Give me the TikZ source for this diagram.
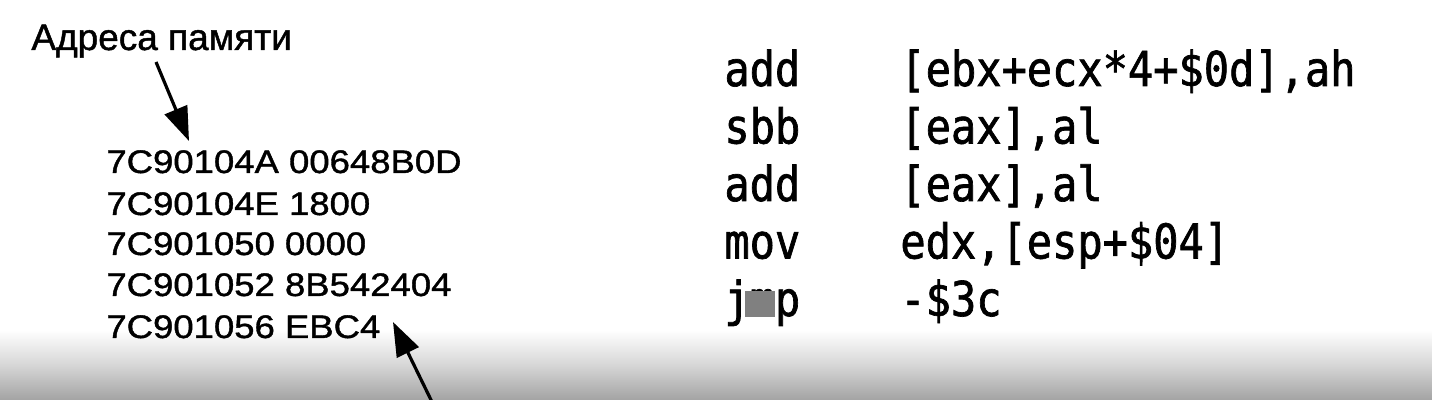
\documentclass[tikz,border=0pt]{standalone}
\usepackage{fontspec}
\setmainfont{Liberation Sans}[FakeBold=1.2]
\newfontfamily\lblfont[FakeBold=1.2]{Liberation Sans}
\newfontfamily\hexfont[FakeStretch=1.12,FakeBold=1.2]{Liberation Sans}
\newfontfamily\asmfont[FakeStretch=0.875,FakeBold=1.4]{DejaVu Sans Mono}
\usetikzlibrary{arrows.meta}
\tikzset{
  lbl/.style={anchor=base west, inner sep=0pt, font=\lblfont\fontsize{18.5pt}{20pt}\selectfont},
  hexline/.style={anchor=base west, inner sep=0pt, font=\hexfont\fontsize{16.3pt}{18pt}\selectfont},
  asm/.style={anchor=base west, inner sep=0pt, font=\asmfont\fontsize{24pt}{26pt}\selectfont},
  pointer/.style={line width=1.6pt, -{Triangle[length=17pt,width=12pt]}}
}
\begin{document}
\begin{tikzpicture}[x=0.5pt,y=-0.5pt]
\useasboundingbox (0,0) rectangle (1432,400);
\fill[white] (0,0) rectangle (1432,400);
\shade[top color=white, bottom color=black!36, middle color=black!16] (0,330) rectangle (1432,400);
% label
\node[lbl] (label) at (31,50) {Адреса памяти};
% hex dump
\node[hexline] (h1) at (106,173) {7C90104A 00648B0D};
\node[hexline] (h2) at (106,215) {7C90104E 1800};
\node[hexline] (h3) at (106,255) {7C901050 0000};
\node[hexline] (h4) at (106,296) {7C901052 8B542404};
\node[hexline] (h5) at (106,338) {7C901056 EBC4};
% assembly
\node[asm] (m1) at (724,86) {add};
\node[asm] (o1) at (900,86) {[ebx+ecx*4+\$0d],ah};
\node[asm] (m2) at (724,143.5) {sbb};
\node[asm] (o2) at (900,143.5) {[eax],al};
\node[asm] (m3) at (724,201) {add};
\node[asm] (o3) at (900,201) {[eax],al};
\node[asm] (m4) at (724,258.5) {mov};
\node[asm] (o4) at (900,258.5) {edx,[esp+\$04]};
\node[asm] (m5) at (724,316) {jmp};
\node[asm] (o5) at (900,316) {-\$3c};
\fill[black!50] (745,291) rectangle (775,317);
% arrows
\coordinate (a1s) at (156,62);
\coordinate (a1e) at (189,141);
\coordinate (a2s) at (433,404);
\coordinate (a2e) at (393,322);
\draw[pointer] (a1s) -- (a1e);
\draw[pointer] (a2s) -- (a2e);
\end{tikzpicture}
\end{document}
